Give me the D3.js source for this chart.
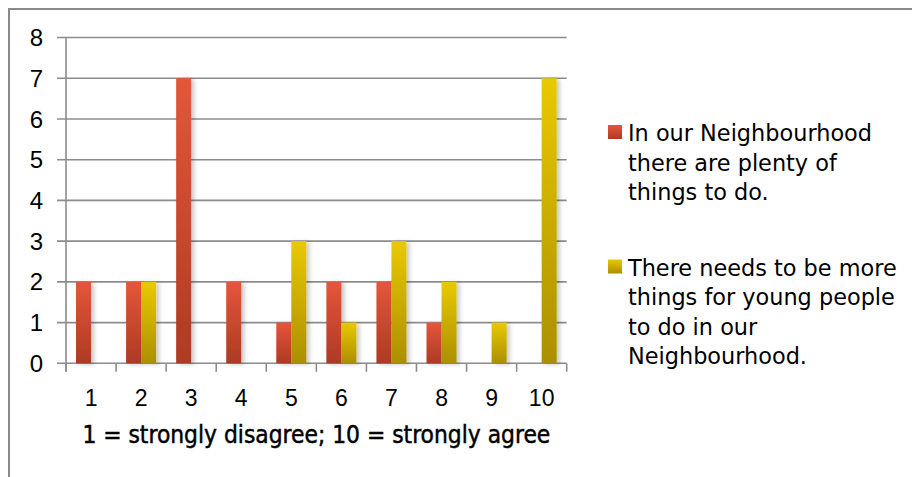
<!DOCTYPE html>
<html>
<head>
<meta charset="utf-8">
<script src="https://cdn.jsdelivr.net/npm/d3@7"></script>
<style>
  html, body { margin: 0; padding: 0; background: #fff; }
  svg { display: block; }
</style>
</head>
<body>
<svg id="chart" width="912" height="477"></svg>
<script>
// Survey responses: rating 1..10, count of respondents per rating
const categories = ["1", "2", "3", "4", "5", "6", "7", "8", "9", "10"];
const plentyToDo = [2, 2, 7, 2, 1, 2, 2, 1, 0, 0];
const needMore   = [0, 2, 0, 0, 3, 1, 3, 2, 1, 7];
const seriesNames = [
  "In our Neighbourhood there are plenty of things to do.",
  "There needs to be more things for young people to do in our Neighbourhood."
];
const legendLines = [
  ["In our Neighbourhood", "there are plenty of", "things to do."],
  ["There needs to be more", "things for young people", "to do in our", "Neighbourhood."]
];
const yTicks = [0, 1, 2, 3, 4, 5, 6, 7, 8];
const xTitle = "1 = strongly disagree; 10 = strongly agree";

const svg = d3.select("#chart");
const W = 912, H = 477;
const plotL = 66, plotR = 566.7, plotT = 37.5, plotB = 363.3;

const defs = svg.append("defs");
const grads = [
  { id: "gRed", c0: "#e5563a", c1: "#ad3a24" },
  { id: "gYel", c0: "#e9c900", c1: "#ab8f00" }
];
grads.forEach(g => {
  const lg = defs.append("linearGradient").attr("id", g.id)
    .attr("x1", 0).attr("y1", 0).attr("x2", 0).attr("y2", 1);
  lg.append("stop").attr("offset", "0%").attr("stop-color", g.c0);
  lg.append("stop").attr("offset", "100%").attr("stop-color", g.c1);
});
const f = defs.append("filter").attr("id", "shadow")
  .attr("x", "-50%").attr("y", "-10%").attr("width", "200%").attr("height", "120%");
f.append("feDropShadow").attr("dx", 3).attr("dy", 1).attr("stdDeviation", 2)
  .attr("flood-color", "#000").attr("flood-opacity", 0.22);

// Frame (top and left edges)
svg.append("path")
  .attr("d", `M9,${H} L9,9 L${W},9`)
  .attr("fill", "none").attr("stroke", "#8a8a8a").attr("stroke-width", 2);

const x = d3.scaleBand().domain(categories).range([plotL, plotR]).padding(0);
const bw = x.bandwidth();
const xs = d3.scaleBand().domain(seriesNames).range([bw * 0.2, bw * 0.8]).padding(0);
const y = d3.scaleLinear().domain([0, 8]).range([plotB, plotT]);

// Horizontal gridlines (extend left to form the y tick marks)
svg.append("g").selectAll("line").data(yTicks).join("line")
  .attr("x1", plotL - 9).attr("x2", plotR)
  .attr("y1", d => y(d)).attr("y2", d => y(d))
  .attr("stroke", "#8c8c8c").attr("stroke-width", 1.6);

// Y axis line
svg.append("line")
  .attr("x1", plotL).attr("x2", plotL).attr("y1", plotT).attr("y2", plotB + 8.5)
  .attr("stroke", "#8c8c8c").attr("stroke-width", 1.6);

// X category tick marks at band boundaries
const boundaries = categories.map(c => x(c)).concat([plotR]);
svg.append("g").selectAll("line").data(boundaries).join("line")
  .attr("x1", d => d).attr("x2", d => d)
  .attr("y1", plotB).attr("y2", plotB + 8.5)
  .attr("stroke", "#8c8c8c").attr("stroke-width", 1.6);

// Bars
const series = [
  { name: seriesNames[0], values: plentyToDo, fill: "url(#gRed)" },
  { name: seriesNames[1], values: needMore, fill: "url(#gYel)" }
];
series.forEach(s => {
  svg.append("g").attr("filter", "url(#shadow)").selectAll("rect")
    .data(categories.map((c, i) => ({ c, v: s.values[i] })).filter(d => d.v > 0))
    .join("rect")
    .attr("x", d => x(d.c) + xs(s.name))
    .attr("width", xs.bandwidth())
    .attr("y", d => y(d.v))
    .attr("height", d => y(0) - y(d.v))
    .attr("fill", s.fill);
});

// Y tick labels
svg.append("g").selectAll("text").data(yTicks).join("text")
  .attr("x", 43).attr("y", d => y(d))
  .attr("dy", "0.36em")
  .attr("text-anchor", "end")
  .attr("font-family", "Liberation Sans, Arial, sans-serif")
  .attr("font-size", 24).attr("fill", "#000")
  .text(d => d);

// X tick labels
svg.append("g").selectAll("text").data(categories).join("text")
  .attr("x", d => x(d) + bw / 2).attr("y", 406)
  .attr("text-anchor", "middle")
  .attr("font-family", "Liberation Sans, Arial, sans-serif")
  .attr("font-size", 23).attr("fill", "#000")
  .text(d => d);

// X axis title
svg.append("text")
  .attr("x", (plotL + plotR) / 2).attr("y", 443)
  .attr("text-anchor", "middle")
  .attr("font-family", "DejaVu Sans Condensed, DejaVu Sans, sans-serif")
  .attr("font-size", 24.3).attr("fill", "#000")
  .attr("stroke", "#000").attr("stroke-width", 0.45)
  .text(xTitle);

// Legend
const legendBase = [141, 275.5];
const lineH = 29.5;
series.forEach((s, i) => {
  const g = svg.append("g");
  g.append("rect")
    .attr("x", 608).attr("y", legendBase[i] - 16)
    .attr("width", 14).attr("height", 14)
    .attr("fill", s.fill);
  g.selectAll("text").data(legendLines[i]).join("text")
    .attr("x", 628).attr("y", (d, j) => legendBase[i] + j * lineH)
    .attr("font-family", "DejaVu Sans, sans-serif")
    .attr("font-size", 22.4).attr("fill", "#000")
    .text(d => d);
});
</script>
</body>
</html>
